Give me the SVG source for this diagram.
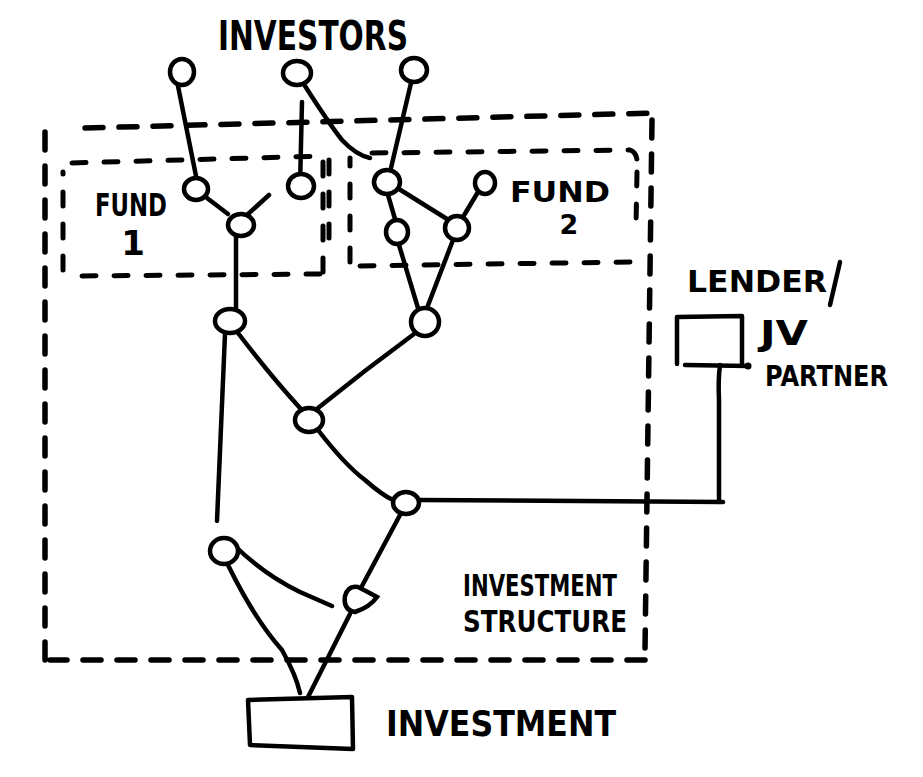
<svg xmlns="http://www.w3.org/2000/svg" width="923" height="777" viewBox="0 0 923 777">
<style>
.bg{fill:#fff}
.ln{fill:none;stroke:#000;stroke-width:4.5;stroke-linecap:round;stroke-linejoin:round}
.nd{fill:#fff;stroke:#000;stroke-width:4.5}
.dsh{fill:none;stroke:#000;stroke-width:5.5;stroke-linecap:round;stroke-dasharray:18 16}
.dsh2{fill:none;stroke:#000;stroke-width:5;stroke-linecap:round;stroke-dasharray:14 18}
.t{font-family:"DejaVu Sans","Liberation Sans",sans-serif;font-weight:bold;fill:#000}
</style>
<rect class="bg" width="923" height="777"/>
<g id="boundaries">
  <path id="investment-structure-box" class="dsh" d="M85,128 L655,113 M652,120 L645,650 M645,660 L50,660 M45,660 L45,130"/>
  <path id="fund1-box" class="dsh2" d="M72,163 L325,156 M323,162 L323,272 M320,274 L75,276 M63,270 L63,172"/>
  <path id="fund2-box" class="dsh2" d="M372,153 L630,150 Q636,152 637,160 M637,172 L636,225 M630,262 L352,266 M350,262 L350,158 M329,160 L329,250"/>
</g>
<g id="connectors">
  <path class="ln" d="M178,86 L196,176"/>
  <path class="ln" d="M302,102 L300,186"/>
  <path class="ln" d="M305,86 Q330,125 342,140 Q356,155 370,158"/>
  <path class="ln" d="M411,83 L391,168"/>
  <path class="ln" d="M207,198 L228,214"/>
  <path class="ln" d="M247,215 L269,195"/>
  <path class="ln" d="M236,237 L236,308"/>
  <path class="ln" d="M388,195 L395,219"/>
  <path class="ln" d="M399,189 L447,219"/>
  <path class="ln" d="M478,192 L463,217"/>
  <path class="ln" d="M399,245 L418,308"/>
  <path class="ln" d="M453,240 L427,308"/>
  <path class="ln" d="M238,333 Q270,375 300,408"/>
  <path class="ln" d="M414,334 Q365,370 318,408"/>
  <path class="ln" d="M225,334 L217,521"/>
  <path class="ln" d="M318,430 Q345,465 365,480 Q382,495 393,500"/>
  <path class="ln" d="M419,500 L723,502"/>
  <path class="ln" d="M720,365 Q718,380 719,400 L719,502"/>
  <path class="ln" d="M400,515 L362,586"/>
  <path class="ln" d="M236,547 Q265,575 300,592 L332,606"/>
  <path class="ln" d="M228,565 Q255,620 282,650 Q296,675 300,693"/>
  <path class="ln" d="M350,614 L308,697"/>
</g>
<g id="investor-1"><ellipse class="nd" cx="182" cy="72" rx="12" ry="13"/></g>
<g id="investor-2"><ellipse class="nd" cx="297" cy="73" rx="14" ry="12"/></g>
<g id="investor-3"><ellipse class="nd" cx="414" cy="70" rx="13" ry="12"/></g>
<g id="fund1-node-a"><ellipse class="nd" cx="196" cy="189" rx="12" ry="11"/></g>
<g id="fund1-node-b"><ellipse class="nd" cx="241" cy="225" rx="13" ry="11"/></g>
<g id="fund1-node-c"><ellipse class="nd" cx="301" cy="186" rx="13" ry="12"/></g>
<g id="fund2-node-a"><ellipse class="nd" cx="387" cy="182" rx="13" ry="12"/></g>
<g id="fund2-node-b"><ellipse class="nd" cx="485" cy="183" rx="10" ry="11"/></g>
<g id="fund2-node-c"><ellipse class="nd" cx="397" cy="232" rx="11" ry="12"/></g>
<g id="fund2-node-d"><ellipse class="nd" cx="457" cy="228" rx="12" ry="12"/></g>
<g id="node-k"><ellipse class="nd" cx="230" cy="321" rx="15" ry="12"/></g>
<g id="node-l"><ellipse class="nd" cx="425" cy="322" rx="14" ry="14"/></g>
<g id="node-m"><ellipse class="nd" cx="309" cy="420" rx="14" ry="12"/></g>
<g id="node-n"><ellipse class="nd" cx="406" cy="503" rx="13" ry="11"/></g>
<g id="node-o"><ellipse class="nd" cx="224" cy="551" rx="14" ry="13"/></g>
<g id="node-p"><path class="nd" d="M345,596 Q348,585 358,587 Q368,592 377,597 Q370,607 355,612 Q343,610 345,596 Z"/></g>
<g id="investment">
  <path class="ln" d="M248,700 L352,697 L353,749 L250,745 Z"/>
  <text class="t" x="386" y="736" font-size="36" textLength="230" lengthAdjust="spacingAndGlyphs">INVESTMENT</text>
</g>
<g id="lender">
  <path class="ln" d="M677,364 L677,317 L742,316 L742,363 M685,365 L748,366"/>
  <circle cx="748" cy="366" r="3.5"/>
  <text class="t" x="687" y="292" font-size="30" textLength="140" lengthAdjust="spacingAndGlyphs">LENDER</text>
  <path class="ln" d="M840,262 L830,305"/>
  <text class="t" x="760" y="345" font-size="34" textLength="48" lengthAdjust="spacingAndGlyphs">JV</text>
  <text class="t" x="765" y="386" font-size="28" textLength="123" lengthAdjust="spacingAndGlyphs">PARTNER</text>
</g>
<g id="labels">
  <text class="t" x="218" y="50" font-size="40" textLength="190" lengthAdjust="spacingAndGlyphs">INVESTORS</text>
  <text class="t" x="95" y="216" font-size="32" textLength="72" lengthAdjust="spacingAndGlyphs">FUND</text>
  <text class="t" x="133" y="255" font-size="34" text-anchor="middle">1</text>
  <text class="t" x="510" y="202" font-size="29" textLength="100" lengthAdjust="spacingAndGlyphs">FUND</text>
  <text class="t" x="569" y="234" font-size="27" text-anchor="middle">2</text>
  <text class="t" x="463" y="596" font-size="30" textLength="154" lengthAdjust="spacingAndGlyphs">INVESTMENT</text>
  <text class="t" x="463" y="632" font-size="30" textLength="164" lengthAdjust="spacingAndGlyphs">STRUCTURE</text>
</g>
</svg>
